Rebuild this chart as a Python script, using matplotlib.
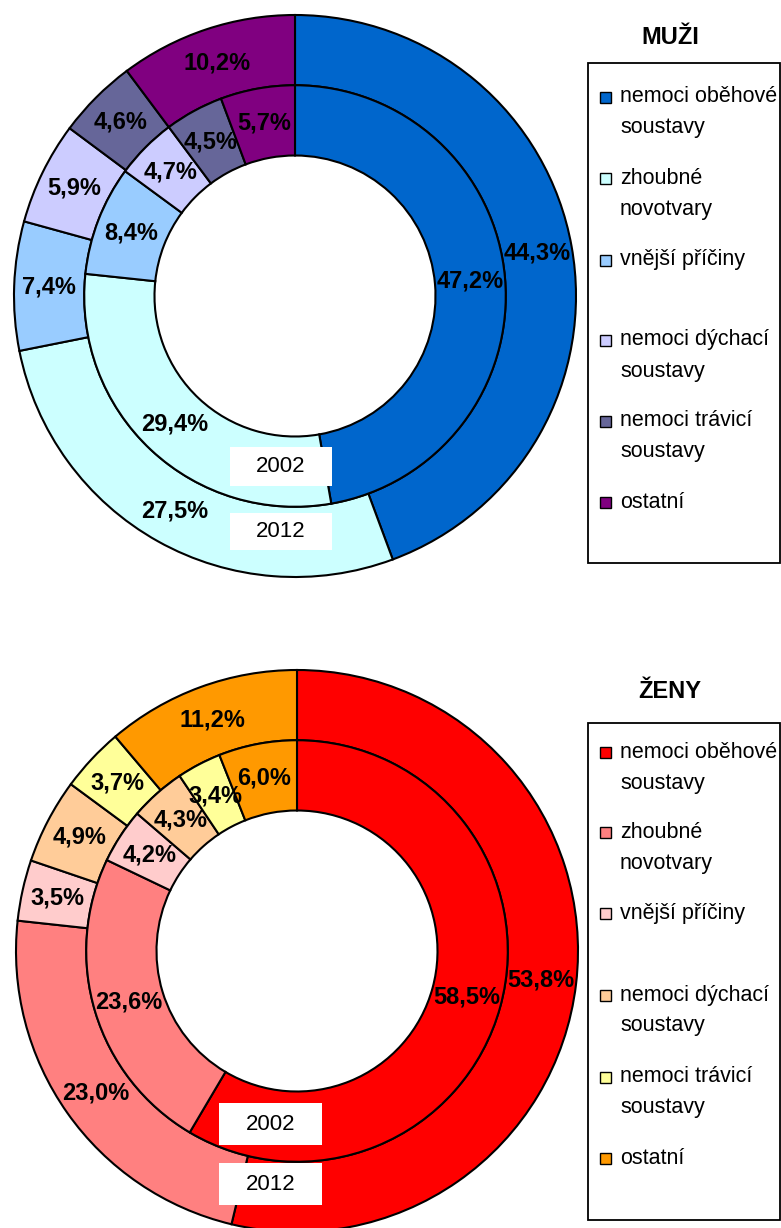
import matplotlib.pyplot as plt
from matplotlib.patches import Rectangle

W, H = 781, 1228

kategorie = ['nemoci oběhové\nsoustavy', 'zhoubné\nnovotvary', 'vnější příčiny',
             'nemoci dýchací\nsoustavy', 'nemoci trávicí\nsoustavy', 'ostatní']

# outer ring = 2012, inner ring = 2002
muzi_2012 = [44.3, 27.5, 7.4, 5.9, 4.6, 10.2]
muzi_2002 = [47.2, 29.4, 8.4, 4.7, 4.5, 5.7]
zeny_2012 = [53.8, 23.0, 3.5, 4.9, 3.7, 11.2]
zeny_2002 = [58.5, 23.6, 4.2, 4.3, 3.4, 6.0]

barvy_muzi = ['#0066CC', '#CCFFFF', '#99CCFF', '#CCCCFF', '#666699', '#800080']
barvy_zeny = ['#FF0000', '#FF8080', '#FFCCCC', '#FFCC99', '#FFFF99', '#FF9900']

fig = plt.figure(figsize=(W / 100, H / 100), dpi=100)

NARROW = ['Liberation Sans Narrow', 'Liberation Sans', 'DejaVu Sans']
SANS = ['Liberation Sans', 'DejaVu Sans']


def fx(x):
    return x / W


def fy(y):
    return 1 - y / H


def fmt(v):
    return f'{v:.1f}'.replace('.', ',') + '%'


def donut(cx, cy, r, outer, inner, colors):
    half = r * 1.05
    ax = fig.add_axes([fx(cx - half), fy(cy + half), 2 * half / W, 2 * half / H])
    for vals, rad in ((outer, 1.0), (inner, 0.75)):
        it = iter(vals)
        ax.pie(vals, radius=rad, colors=colors, startangle=90, counterclock=False,
               wedgeprops=dict(width=0.25, edgecolor='black', linewidth=1.5),
               autopct=lambda p, it=it: fmt(next(it)),
               pctdistance=(rad - 0.125) / rad,
               textprops=dict(fontsize=17, fontweight='bold', family=NARROW))
    ax.set_xlim(-1.05, 1.05)
    ax.set_ylim(-1.05, 1.05)
    return ax


def year_box(x0, y0, x1, y1, txt):
    fig.patches.append(Rectangle((fx(x0), fy(y1)), (x1 - x0) / W, (y1 - y0) / H,
                                 transform=fig.transFigure, facecolor='white',
                                 edgecolor='none', zorder=5))
    fig.text(fx((x0 + x1) / 2), fy((y0 + y1) / 2), txt, ha='center', va='center',
             fontsize=16, family=SANS, zorder=6)


def legenda(title, ty, box_top, box_bot, colors, rows):
    fig.text(fx(670), fy(ty), title, ha='center', va='center', fontsize=17,
             fontweight='bold', family=SANS)
    fig.patches.append(Rectangle((fx(588), fy(box_bot)), (780 - 588) / W,
                                 (box_bot - box_top) / H, transform=fig.transFigure,
                                 facecolor='white', edgecolor='black', linewidth=1.3))
    for lab, c, y in zip(kategorie, colors, rows):
        fig.patches.append(Rectangle((fx(600), fy(y + 5.5)), 11 / W, 11 / H,
                                     transform=fig.transFigure, facecolor=c,
                                     edgecolor='black', linewidth=1.0))
        for i, line in enumerate(lab.split('\n')):
            fig.text(fx(620), fy(y + i * 31), line, ha='left', va='center',
                     fontsize=15.5, family=SANS)


donut(295, 296, 281, muzi_2012, muzi_2002, barvy_muzi)
year_box(230, 447, 332, 486, '2002')
year_box(230, 513, 332, 550, '2012')
legenda('MUŽI', 37, 63, 563, barvy_muzi, [97, 178, 260, 340, 421, 502])

donut(297, 951, 281, zeny_2012, zeny_2002, barvy_zeny)
year_box(219, 1103, 322, 1145, '2002')
year_box(219, 1163, 322, 1205, '2012')
legenda('ŽENY', 692, 723, 1220, barvy_zeny, [752, 832, 913, 995, 1077, 1158])

fig.savefig('out.png', dpi=100)
